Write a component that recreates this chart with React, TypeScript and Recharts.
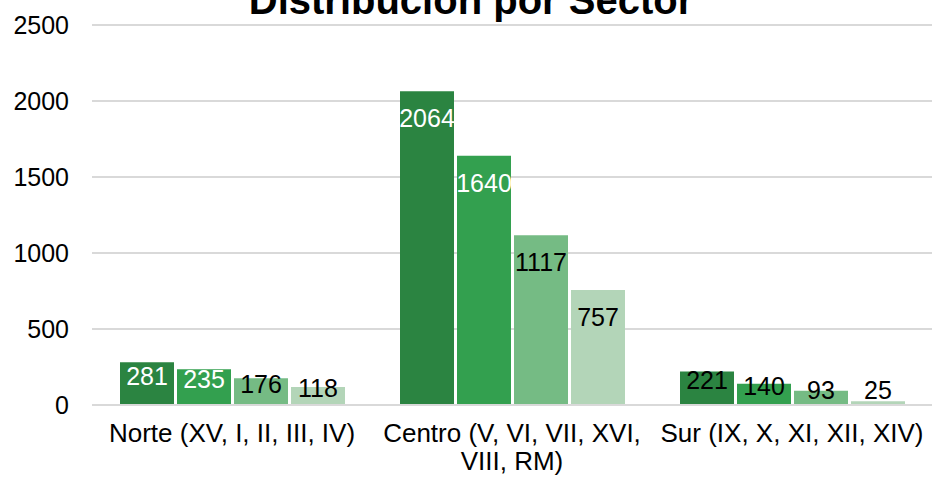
import { Bar, BarChart, CartesianGrid, LabelList, XAxis, YAxis } from "recharts"

const sectores = ["Norte (XV, I, II, III, IV)", "Centro (V, VI, VII, XVI, VIII, RM)", "Sur (IX, X, XI, XII, XIV)"]
const serie1 = [281, 2064, 221]
const serie2 = [235, 1640, 140]
const serie3 = [176, 1117, 93]
const serie4 = [118, 757, 25]
const yTicks = [0, 500, 1000, 1500, 2000, 2500]

const colores = ["#2b8441", "#33a04f", "#75bb84", "#b3d5b8"]
const FONT = "'Liberation Sans', Arial, sans-serif"

const data = sectores.map((s, i) => ({ sector: s, s1: serie1[i], s2: serie2[i], s3: serie3[i], s4: serie4[i] }))

let ctx: CanvasRenderingContext2D | null = null
function wrap(label: string, maxW: number, font: string) {
  if (!ctx) ctx = document.createElement("canvas").getContext("2d")
  if (!ctx) return [label]
  ctx.font = font
  const lines: string[] = []
  let cur = ""
  for (const w of label.split(" ")) {
    const next = cur ? cur + " " + w : w
    if (cur && ctx.measureText(next).width > maxW) {
      lines.push(cur)
      cur = w
    } else cur = next
  }
  if (cur) lines.push(cur)
  return lines
}

function CatTick({ x, y, payload }: any) {
  const lines = wrap(String(payload.value), 272, `26px ${FONT}`)
  return (
    <text x={x} y={y} textAnchor="middle" fontSize={26} fontFamily={FONT} fill="#000">
      {lines.map((l, i) => (
        <tspan key={i} x={x} dy={i === 0 ? 18 : 28}>{l}</tspan>
      ))}
    </text>
  )
}

function makeLabel(dark: boolean) {
  return (props: any) => {
    const { x, y, width, height, value } = props
    const top = Number(y)
    const base = top + Number(height)
    const center = Math.min(top + 27, (top + base) / 2 - 8, base - 15)
    const fill = dark && Number(height) > 35 ? "#fff" : "#000"
    return (
      <text x={Number(x) + Number(width) / 2} y={center + 9} textAnchor="middle" fontSize={25}
        fontFamily={FONT} fill={fill}>
        {value}
      </text>
    )
  }
}

export default function App() {
  return (
    <div style={{ position: "absolute", left: 0, top: 0, width: 932, height: 477, background: "#fff" }}>
      <BarChart width={932} height={477} data={data} margin={{ top: 25, right: 0, bottom: 0, left: 0 }}
        barGap={3} barCategoryGap="10%">
        <CartesianGrid vertical={false} stroke="#d9d9d9" strokeWidth={2} />
        <XAxis dataKey="sector" tick={(p: any) => <CatTick {...p} />} tickLine={false} tickSize={0} tickMargin={19}
          axisLine={{ stroke: "#d9d9d9", strokeWidth: 2 }} interval={0} height={72} />
        <YAxis domain={[0, 2500]} ticks={yTicks} width={92} axisLine={false} tickLine={false}
          tickSize={0} tickMargin={23} tick={{ fontSize: 25, fontFamily: FONT, fill: "#000" }} />
        <Bar dataKey="s1" fill={colores[0]} isAnimationActive={false}>
          <LabelList dataKey="s1" content={makeLabel(true)} />
        </Bar>
        <Bar dataKey="s2" fill={colores[1]} isAnimationActive={false}>
          <LabelList dataKey="s2" content={makeLabel(true)} />
        </Bar>
        <Bar dataKey="s3" fill={colores[2]} isAnimationActive={false}>
          <LabelList dataKey="s3" content={makeLabel(false)} />
        </Bar>
        <Bar dataKey="s4" fill={colores[3]} isAnimationActive={false}>
          <LabelList dataKey="s4" content={makeLabel(false)} />
        </Bar>
      </BarChart>
      <svg width={932} height={40} style={{ position: "absolute", left: 0, top: 0, pointerEvents: "none" }}>
        <text x={471} y={14} textAnchor="middle" fontSize={40} fontWeight="bold" fontFamily={FONT} fill="#000">
          Distribución por Sector
        </text>
      </svg>
    </div>
  )
}
